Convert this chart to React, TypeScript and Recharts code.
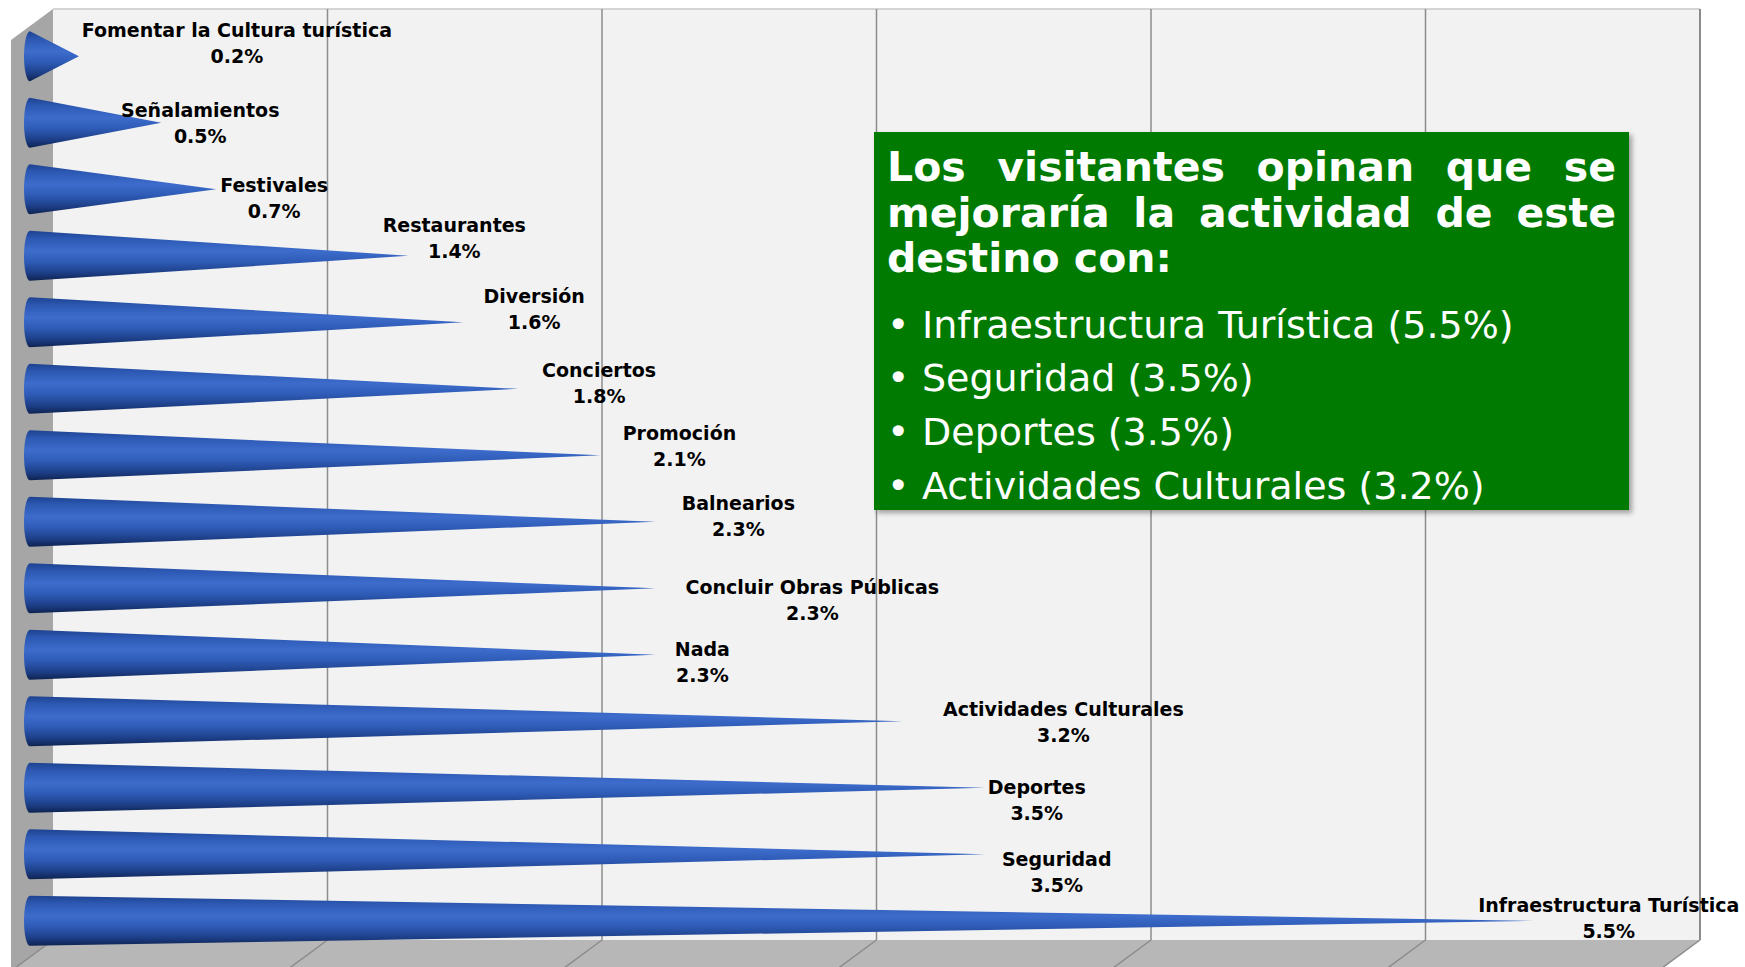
import React from "react";
import { BarChart, Bar, XAxis, YAxis, LabelList } from "recharts";

const categories = [
  "Fomentar la Cultura turística",
  "Señalamientos",
  "Festivales",
  "Restaurantes",
  "Diversión",
  "Conciertos",
  "Promoción",
  "Balnearios",
  "Concluir Obras Públicas",
  "Nada",
  "Actividades Culturales",
  "Deportes",
  "Seguridad",
  "Infraestructura Turística",
];
const values = [0.2, 0.5, 0.7, 1.4, 1.6, 1.8, 2.1, 2.3, 2.3, 2.3, 3.2, 3.5, 3.5, 5.5];
const axisTicks = [0, 1, 2, 3, 4, 5, 6];

const summaryTitle = [
  "Los visitantes opinan que se",
  "mejoraría la actividad de este",
  "destino con:",
];
const summaryItems = [
  "Infraestructura Turística (5.5%)",
  "Seguridad (3.5%)",
  "Deportes (3.5%)",
  "Actividades Culturales (3.2%)",
];

// labels were dragged by hand in the original, so each one gets a nudge from its cone tip
const labelDx = [158, 39, 58, 46, 71, 81, 79, 83, 157, 47, 161, 52, 72, 75];
const labelDy = [-26, -12.5, -4, -30.5, -26, -18.5, -22, -18.5, -1, -5.5, -12, -0.5, 5, -15.5];

const data = categories.map((name, i) => ({ name, value: values[i] }));

const W = 1745;
const H = 967;
const margin = { top: 23, right: 74, bottom: 13, left: 24 };
const unit = (W - margin.left - margin.right) / 6;
// back wall sits up and to the right of the plane the cones are drawn in
const backX = margin.left + 29;
const backTop = 9;
const backBottom = 940;
const depthX = 42;
const depthY = 31;

function Cone(props: any) {
  const { x, y, width, height } = props;
  if (!width || width <= 0) return null;
  const rx = Math.min(6, width / 3);
  const cy = y + height / 2;
  const d = `M ${x + rx} ${y} L ${x + width} ${cy} L ${x + rx} ${y + height} A ${rx} ${height / 2} 0 0 1 ${x + rx} ${y} Z`;
  return <path d={d} fill="url(#coneFill)" />;
}

function ConeLabel(props: any) {
  const { x, y, width, height, value } = props;
  const i = categories.indexOf(value);
  if (i < 0) return null;
  const cx = x + width + labelDx[i];
  const cy = y + height / 2 + labelDy[i];
  return (
    <g>
      <text x={cx} y={cy + 7} textAnchor="middle" fontFamily="'DejaVu Sans', Verdana, sans-serif" fontWeight="bold" fontSize={19} fill="#000">
        {value}
      </text>
      <text x={cx} y={cy + 33} textAnchor="middle" fontFamily="'DejaVu Sans', Verdana, sans-serif" fontWeight="bold" fontSize={19} fill="#000">
        {values[i].toFixed(1)}%
      </text>
    </g>
  );
}

function Walls() {
  const right = backX + 6 * unit;
  return (
    <svg width={W} height={H} style={{ position: "absolute", left: 0, top: 0 }}>
      <defs>
        <linearGradient id="coneFill" x1="0" y1="0" x2="0" y2="1">
          <stop offset="0%" stopColor="#1d428f" />
          <stop offset="15%" stopColor="#2c58b2" />
          <stop offset="40%" stopColor="#3d6ccc" />
          <stop offset="62%" stopColor="#2e5bb6" />
          <stop offset="85%" stopColor="#1c3d84" />
          <stop offset="100%" stopColor="#0e2350" />
        </linearGradient>
      </defs>
      <rect x={backX} y={backTop} width={right - backX} height={backBottom - backTop} fill="#f2f2f2" />
      <line x1={backX} y1={backTop} x2={right} y2={backTop} stroke="#d4d4d4" strokeWidth={2} />
      <polygon
        points={`${backX},${backTop} ${backX},${backBottom} ${backX - depthX},${backBottom + depthY} ${backX - depthX},${backTop + depthY}`}
        fill="#a6a6a6"
      />
      <polygon
        points={`${backX},${backBottom} ${right},${backBottom} ${right - depthX},${backBottom + depthY} ${backX - depthX},${backBottom + depthY}`}
        fill="#b7b7b7"
      />
      {axisTicks.map((t) => {
        const gx = backX + t * unit;
        return (
          <g key={t}>
            {t > 0 && <line x1={gx} y1={backTop} x2={gx} y2={backBottom} stroke="#8c8c8c" strokeWidth={t === 6 ? 2 : 1.5} />}
            <line x1={gx} y1={backBottom} x2={gx - depthX} y2={backBottom + depthY} stroke="#8c8c8c" strokeWidth={1.5} />
          </g>
        );
      })}
    </svg>
  );
}

function SummaryBox() {
  return (
    <div
      style={{
        position: "absolute",
        left: 874,
        top: 132,
        width: 755,
        height: 378,
        boxSizing: "border-box",
        background: "#007a00",
        boxShadow: "3px 3px 5px rgba(0,0,0,0.35)",
        padding: "13px 13px 0 13px",
        color: "#fff",
        fontFamily: "'DejaVu Sans', Verdana, sans-serif",
      }}
    >
      {summaryTitle.map((line, i) => (
        <div
          key={line}
          style={{
            fontWeight: "bold",
            fontSize: 41,
            lineHeight: "45.5px",
            whiteSpace: "nowrap",
            textAlign: "justify",
            textAlignLast: i < summaryTitle.length - 1 ? "justify" : "left",
          }}
        >
          {line}
        </div>
      ))}
      <div style={{ marginTop: 17 }}>
        {summaryItems.map((item) => (
          <div key={item} style={{ display: "flex", fontSize: 38, lineHeight: "53.7px", whiteSpace: "nowrap" }}>
            <span style={{ width: 35, flex: "none" }}>•</span>
            <span>{item}</span>
          </div>
        ))}
      </div>
    </div>
  );
}

export default function App() {
  return (
    <div style={{ position: "relative", width: W, height: H, overflow: "hidden", background: "#fff" }}>
      <style>{"body{margin:0}"}</style>
      <Walls />
      <div style={{ position: "absolute", left: 0, top: 0 }}>
        <BarChart width={W} height={H} data={data} layout="vertical" margin={margin} barCategoryGap="12.5%">
          <XAxis type="number" domain={[0, 6]} ticks={axisTicks} hide />
          <YAxis type="category" dataKey="name" hide width={0} />
          <Bar dataKey="value" shape={(p: any) => <Cone {...p} />} isAnimationActive={false}>
            <LabelList dataKey="name" content={(p: any) => <ConeLabel {...p} />} />
          </Bar>
        </BarChart>
      </div>
      <SummaryBox />
    </div>
  );
}
